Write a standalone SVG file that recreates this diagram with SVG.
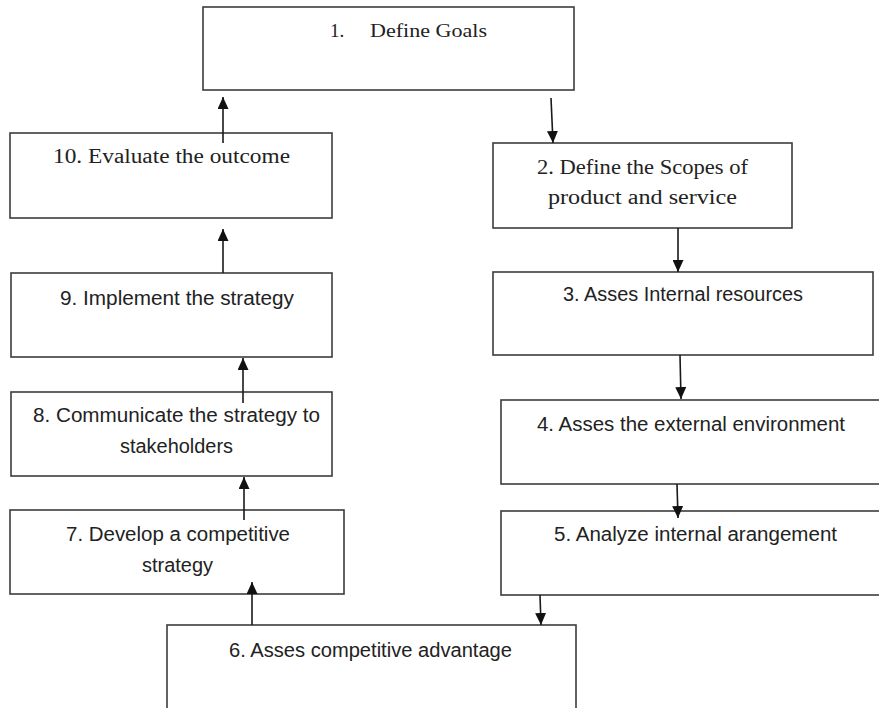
<svg xmlns="http://www.w3.org/2000/svg" width="879" height="708" viewBox="0 0 879 708">
<defs>
<style>
.box{fill:#ffffff;stroke:#3c3c3c;stroke-width:1.6}
.sans{font-family:"Liberation Sans",Arial,sans-serif;font-size:19.5px;fill:#222}
.serif{font-family:"Liberation Serif","Times New Roman",serif;font-size:19px;fill:#222}
.cam{font-family:"Liberation Serif","Times New Roman",serif;font-size:20px;fill:#222}
.conn{stroke:#1a1a1a;stroke-width:1.6;fill:none}
</style>
<marker id="ah" viewBox="0 0 12 11" markerWidth="12" markerHeight="11" refX="12" refY="5.5" orient="auto" markerUnits="userSpaceOnUse">
<path d="M0,0 L12,5.5 L0,11 z" fill="#111"/>
</marker>
</defs>
<rect width="879" height="708" fill="#ffffff"/>
<g id="node1">
<rect class="box" x="203" y="7" width="371" height="83"/>
<text class="serif" x="330" y="37">1.</text>
<text class="serif" x="370" y="37" textLength="117" lengthAdjust="spacingAndGlyphs">Define Goals</text>
</g>
<g id="node2">
<rect class="box" x="493" y="143" width="299" height="85"/>
<text class="cam" x="537" y="174" textLength="211" lengthAdjust="spacingAndGlyphs">2. Define the Scopes of</text>
<text class="cam" x="548" y="204" textLength="189" lengthAdjust="spacingAndGlyphs">product and service</text>
</g>
<g id="node3">
<rect class="box" x="493" y="272" width="380" height="83"/>
<text class="sans" x="563" y="301" textLength="240" lengthAdjust="spacingAndGlyphs">3. Asses Internal resources</text>
</g>
<g id="node4">
<rect class="box" x="501" y="400" width="382" height="84"/>
<text class="sans" x="537" y="431" textLength="308" lengthAdjust="spacingAndGlyphs">4. Asses the external environment</text>
</g>
<g id="node5">
<rect class="box" x="501" y="511" width="382" height="84"/>
<text class="sans" x="554" y="541" textLength="283" lengthAdjust="spacingAndGlyphs">5. Analyze internal arangement</text>
</g>
<g id="node6">
<rect class="box" x="167" y="625" width="409" height="100"/>
<text class="sans" x="229" y="657" textLength="283" lengthAdjust="spacingAndGlyphs">6. Asses competitive advantage</text>
</g>
<g id="node7">
<rect class="box" x="10" y="510" width="334" height="84"/>
<text class="sans" x="66" y="541" textLength="224" lengthAdjust="spacingAndGlyphs">7. Develop a competitive</text>
<text class="sans" x="142" y="572" textLength="71" lengthAdjust="spacingAndGlyphs">strategy</text>
</g>
<g id="node8">
<rect class="box" x="11" y="392" width="321" height="84"/>
<text class="sans" x="33" y="422" textLength="287" lengthAdjust="spacingAndGlyphs">8. Communicate the strategy to</text>
<text class="sans" x="120" y="453" textLength="113" lengthAdjust="spacingAndGlyphs">stakeholders</text>
</g>
<g id="node9">
<rect class="box" x="11" y="273" width="321" height="84"/>
<text class="sans" x="60" y="305" textLength="234" lengthAdjust="spacingAndGlyphs">9. Implement the strategy</text>
</g>
<g id="node10">
<rect class="box" x="10" y="133" width="322" height="85"/>
<text class="cam" x="53" y="163" textLength="237" lengthAdjust="spacingAndGlyphs">10. Evaluate the outcome</text>
</g>
<g id="connectors">
<path class="conn" d="M223,143 L223,97" marker-end="url(#ah)"/>
<path class="conn" d="M223,273 L223,229" marker-end="url(#ah)"/>
<path class="conn" d="M243,403 L243,358" marker-end="url(#ah)"/>
<path class="conn" d="M244,520 L244,477" marker-end="url(#ah)"/>
<path class="conn" d="M252,625 L252,582" marker-end="url(#ah)"/>
<path class="conn" d="M551,98 L553,143" marker-end="url(#ah)"/>
<path class="conn" d="M678,228 L678,272" marker-end="url(#ah)"/>
<path class="conn" d="M680,355 L681,399" marker-end="url(#ah)"/>
<path class="conn" d="M677,484 L678,518" marker-end="url(#ah)"/>
<path class="conn" d="M540,595 L541,625" marker-end="url(#ah)"/>
</g>
</svg>
